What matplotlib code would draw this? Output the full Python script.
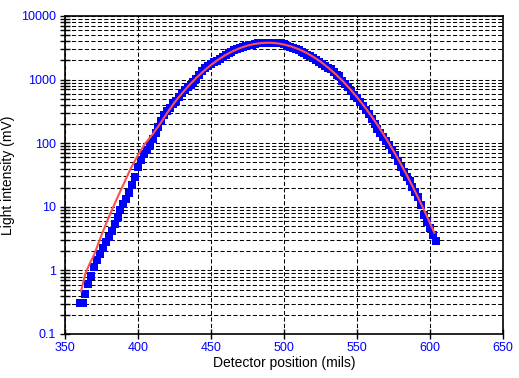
import matplotlib
matplotlib.use("Agg")
import matplotlib.pyplot as plt
from matplotlib.ticker import LogLocator, FixedLocator, NullFormatter, FixedFormatter

# Measured data (blue squares)
position_mils = list(range(360, 606, 2))
intensity_mV = [
    0.31, 0.31, 0.42, 0.62, 0.83, 1.15, 1.45, 1.82, 2.29, 2.82,
    3.39, 4.17, 5.37, 6.92, 8.91, 11.0, 13.5, 16.6, 22.4, 29.5,
    41.7, 53.7, 67.6, 77.6, 93.3, 115, 145, 182, 224, 275,
    316, 363, 407, 468, 525, 617, 676, 759, 832, 912,
    1023, 1175, 1349, 1514, 1622, 1738, 1862, 1995, 2138, 2291,
    2455, 2630, 2754, 2884, 3020, 3162, 3236, 3388, 3467, 3548,
    3631, 3715, 3715, 3802, 3802, 3802, 3802, 3802, 3715, 3715,
    3631, 3388, 3311, 3162, 3020, 2884, 2754, 2630, 2455, 2344,
    2188, 2042, 1905, 1778, 1660, 1549, 1445, 1318, 1202, 1122,
    955, 851, 759, 661, 575, 513, 437, 380, 331, 288,
    240, 204, 170, 145, 126, 110, 93.3, 79.4, 64.6, 52.5,
    42.7, 35.5, 29.5, 25.1, 20.4, 17.0, 14.5, 10.7, 7.41, 5.75,
    4.57, 3.63, 2.95,
]

# Fitted curve (red line)
fit_mils = [361, 364, 367, 370, 375, 380, 385, 390, 395, 400, 405, 410, 415,
            420, 425, 430, 435, 440, 445, 450, 455, 460, 465, 470, 475, 480,
            485, 490, 495, 500, 505, 510, 515, 520, 525, 530, 535, 540, 545,
            550, 555, 560, 565, 570, 575, 580, 585, 590, 595, 600, 603]
fit_mV = [0.47, 0.90, 1.29, 1.78, 3.6, 6.9, 12.6, 22.4, 40, 65, 100, 138, 200,
          300, 436, 603, 813, 1067, 1365, 1698, 2061, 2438, 2805, 3141, 3428,
          3639, 3767, 3802, 3733, 3565, 3319, 3013, 2661, 2286, 1914, 1560,
          1239, 959, 723, 530, 378, 264, 179, 118, 75.7, 47.3, 28.8, 17.1,
          9.9, 5.57, 3.9]

x_ticks = [350, 400, 450, 500, 550, 600, 650]
y_ticks = [0.1, 1, 10, 100, 1000, 10000]
y_tick_labels = ["0.1", "1", "10", "100", "1000", "10000"]

plt.rcParams['font.family'] = ['Liberation Sans', 'DejaVu Sans']

fig = plt.figure(figsize=(5.19, 3.78), dpi=100)
ax = fig.add_axes([65/519, 1-334/378, (503-65)/519, (334-16)/378])

ax.set_yscale('log')
ax.set_xlim(350, 650)
ax.set_ylim(0.1, 10000)

dash = (0, (4, 2.2))
ax.yaxis.set_major_locator(FixedLocator(y_ticks))
ax.yaxis.set_major_formatter(FixedFormatter(y_tick_labels))
ax.yaxis.set_minor_locator(LogLocator(base=10, subs=range(2, 10), numticks=20))
ax.yaxis.set_minor_formatter(NullFormatter())
ax.xaxis.set_major_locator(FixedLocator(x_ticks))

ax.grid(True, which='both', axis='y', color='black', linestyle=dash, linewidth=0.75)
ax.grid(True, which='major', axis='x', color='black', linestyle=dash, linewidth=0.75)
ax.set_axisbelow(True)

ax.plot(position_mils, intensity_mV, linestyle='none', marker='s', markersize=5.2,
        color='#0000FF', markeredgewidth=0, zorder=3)
ax.plot(fit_mils, fit_mV, color='#FF5050', linewidth=1.5, zorder=4)

for s in ax.spines.values():
    s.set_color('black')
    s.set_linewidth(1.2)
    s.set_zorder(5)

ax.tick_params(axis='both', which='both', direction='inout', length=7, width=1,
               color='black', labelcolor='#0000FF', labelsize=9)
ax.tick_params(axis='y', pad=3)
ax.tick_params(axis='x', pad=2)

ax.set_xlabel('Detector position (mils)', fontsize=10, color='black', labelpad=2)
ax.set_ylabel('Light intensity (mV)', fontsize=10, color='black', labelpad=4)

fig.savefig('out.png', dpi=100)
